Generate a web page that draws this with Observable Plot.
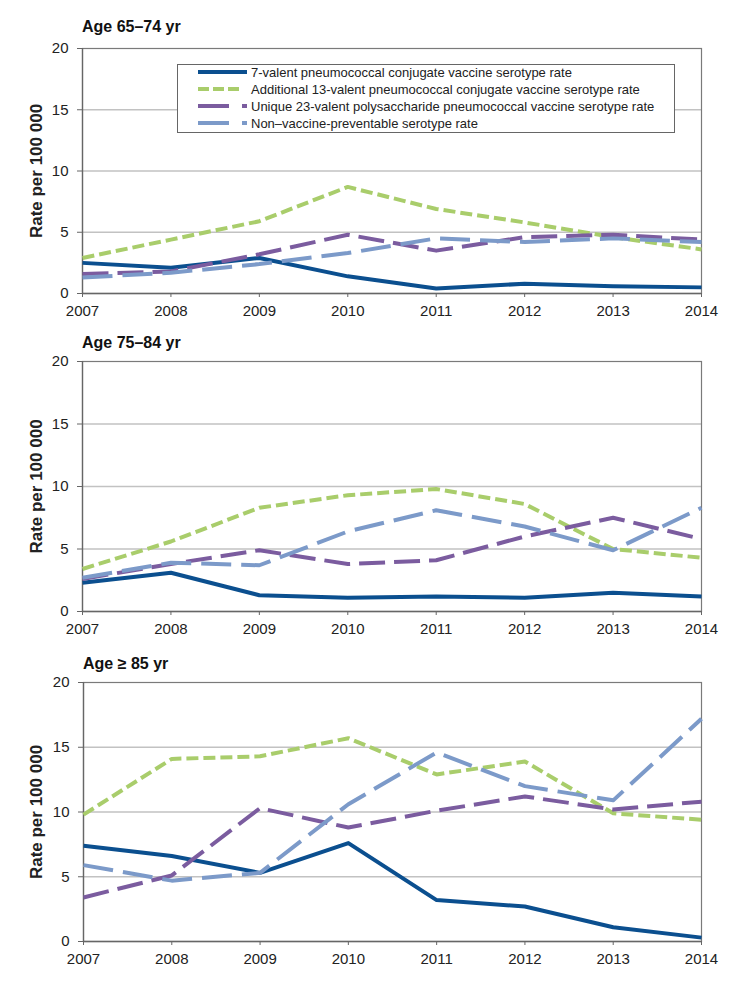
<!DOCTYPE html>
<html>
<head>
<meta charset="utf-8">
<script src="https://cdn.jsdelivr.net/npm/d3@7"></script>
<script src="https://cdn.jsdelivr.net/npm/@observablehq/plot@0.6"></script>
<style>
  body { margin: 0; background: #fff; }
  #root { position: relative; width: 752px; height: 1003px; font-family: "Liberation Sans", Arial, sans-serif; overflow: hidden; }
  .title { position: absolute; font-weight: bold; font-size: 16px; line-height: 16px; color: #111; white-space: nowrap; }
  .panel { position: absolute; left: 0; }
  .legend { position: absolute; }
</style>
</head>
<body>
<div id="root"></div>
<script>
// ---------- data ----------
const years = [2007, 2008, 2009, 2010, 2011, 2012, 2013, 2014];
const seriesNames = [
  "7-valent pneumococcal conjugate vaccine serotype rate",
  "Additional 13-valent pneumococcal conjugate vaccine serotype rate",
  "Unique 23-valent polysaccharide pneumococcal vaccine serotype rate",
  "Non\u2013vaccine-preventable serotype rate"
];
const panelTitles = ["Age 65\u201374 yr", "Age 75\u201384 yr", "Age \u2265 85 yr"];
const yTicks = [0, 5, 10, 15, 20];
const yLabel = "Rate per 100 000";

// Age 65–74 yr
const pcv7_65 = [2.5, 2.1, 2.9, 1.4, 0.4, 0.8, 0.6, 0.5];
const pcv13_65 = [2.9, 4.4, 5.9, 8.7, 6.9, 5.8, 4.6, 3.6];
const ppv23_65 = [1.6, 1.8, 3.2, 4.8, 3.5, 4.6, 4.8, 4.4];
const nvt_65 = [1.3, 1.7, 2.4, 3.3, 4.5, 4.2, 4.5, 4.2];

// Age 75–84 yr
const pcv7_75 = [2.3, 3.1, 1.3, 1.1, 1.2, 1.1, 1.5, 1.2];
const pcv13_75 = [3.4, 5.6, 8.3, 9.3, 9.8, 8.6, 5.0, 4.3];
const ppv23_75 = [2.6, 3.8, 4.9, 3.8, 4.1, 6.0, 7.5, 5.8];
const nvt_75 = [2.7, 3.9, 3.7, 6.4, 8.1, 6.8, 4.9, 8.3];

// Age >= 85 yr
const pcv7_85 = [7.4, 6.6, 5.3, 7.6, 3.2, 2.7, 1.1, 0.3];
const pcv13_85 = [9.8, 14.1, 14.3, 15.7, 12.9, 13.9, 9.9, 9.4];
const ppv23_85 = [3.4, 5.1, 10.3, 8.8, 10.1, 11.2, 10.2, 10.8];
const nvt_85 = [5.9, 4.7, 5.3, 10.6, 14.6, 12.0, 10.9, 17.2];

// ---------- styles ----------
const seriesColors = ["#0b4f8f", "#a9cd6b", "#7b5c9f", "#7c9ac9"];
const seriesDash = [null, "12,5", "26,9", "30,10"];
const legendDash = [null, "11,4", "31,13,5,100", "31,13,5,100"];
const legendSampleEnd = [70, 63, 70, 70];
const FONT = "'Liberation Sans', Arial, sans-serif";

const panelValues = [
  [pcv7_65, pcv13_65, ppv23_65, nvt_65],
  [pcv7_75, pcv13_75, ppv23_75, nvt_75],
  [pcv7_85, pcv13_85, ppv23_85, nvt_85]
];
const layout = [
  { titleTop: 19, svgTop: 38, height: 285, marginLeft: 82 },
  { titleTop: 335, svgTop: 351, height: 290, marginLeft: 82 },
  { titleTop: 656, svgTop: 672, height: 299, marginLeft: 83 }
];

const root = document.getElementById("root");

function makePanel(values, lay) {
  const rows = [];
  values.forEach((arr, si) => arr.forEach((v, i) => rows.push({ year: years[i], rate: v, series: si })));
  const lines = values.map((arr, si) => Plot.line(rows.filter(r => r.series === si), {
    x: "year", y: "rate",
    stroke: seriesColors[si], strokeWidth: 4,
    strokeDasharray: seriesDash[si] || undefined,
    strokeLinejoin: "round", strokeLinecap: "butt"
  }));
  return Plot.plot({
    width: 752,
    height: lay.height,
    marginLeft: lay.marginLeft,
    marginRight: 51,
    marginTop: 10,
    marginBottom: 30,
    x: { domain: [years[0], years[years.length - 1]] },
    y: { domain: [yTicks[0], yTicks[yTicks.length - 1]] },
    style: { fontFamily: FONT, fontSize: "15px", color: "#222", background: "white", overflow: "visible" },
    marks: [
      Plot.gridY(yTicks.slice(1, -1), { stroke: "#c2c2c2", strokeOpacity: 1, strokeWidth: 1.3 }),
      Plot.frame({ stroke: "#7a7a7a", strokeWidth: 1.2 }),
      Plot.ruleX([years[0]], { stroke: "#666", strokeWidth: 1.3 }),
      Plot.ruleY([yTicks[0]], { stroke: "#666", strokeWidth: 1.3 }),
      Plot.axisY({ ticks: yTicks, tickSize: 5, tickPadding: 9, fontSize: 15, label: null, stroke: "#666", fill: "#222" }),
      Plot.axisX({ ticks: years, tickFormat: d => String(d), tickSize: 4, tickPadding: 8, fontSize: 15, label: null, stroke: "#666", fill: "#222" }),
      ...lines,
      Plot.text([yLabel], {
        text: d => d, frameAnchor: "left", dx: 36 - lay.marginLeft, rotate: -90,
        textAnchor: "middle", fontWeight: "bold", fontSize: 17, fill: "#222"
      })
    ]
  });
}

panelValues.forEach((vals, p) => {
  const lay = layout[p];
  const t = document.createElement("div");
  t.className = "title";
  t.style.top = lay.titleTop + "px";
  t.style.left = lay.marginLeft + "px";
  t.textContent = panelTitles[p];
  root.appendChild(t);
  const svg = makePanel(vals, lay);
  const wrap = document.createElement("div");
  wrap.className = "panel";
  wrap.style.top = lay.svgTop + "px";
  wrap.appendChild(svg);
  root.appendChild(wrap);
});

// ---------- legend (inside first panel) ----------
const lg = d3.select(root).append("svg")
  .attr("class", "legend")
  .attr("width", 498).attr("height", 69)
  .style("left", "177px").style("top", "64px");
lg.append("rect").attr("x", 0.5).attr("y", 0.5).attr("width", 497).attr("height", 68)
  .attr("fill", "white").attr("stroke", "#666").attr("stroke-width", 1);
seriesNames.forEach((name, i) => {
  const cy = 8 + i * 17;
  lg.append("line").attr("x1", 21).attr("x2", legendSampleEnd[i]).attr("y1", cy).attr("y2", cy)
    .attr("stroke", seriesColors[i]).attr("stroke-width", 4)
    .attr("stroke-dasharray", legendDash[i]);
  lg.append("text").attr("x", 74).attr("y", cy).attr("dy", "0.35em")
    .attr("font-family", FONT).attr("font-size", 13).attr("fill", "#222")
    .text(name);
});
</script>
</body>
</html>
